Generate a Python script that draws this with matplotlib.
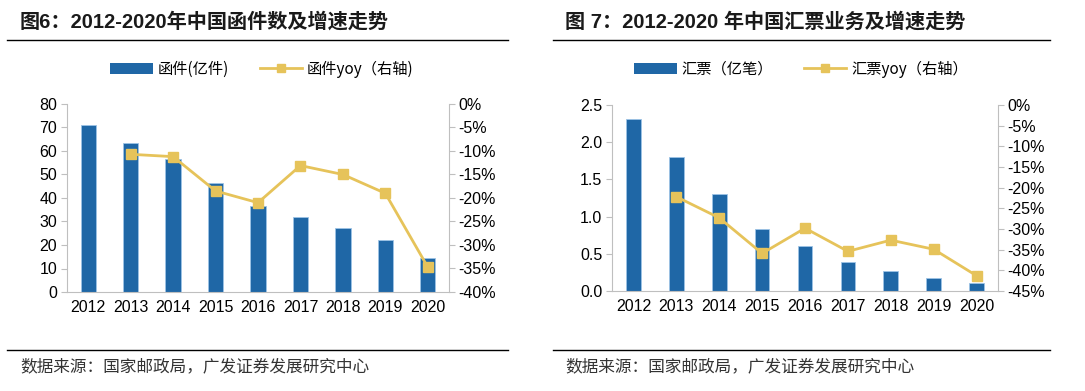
import matplotlib.pyplot as plt
from matplotlib.lines import Line2D
from matplotlib.patches import Patch
from matplotlib.ticker import FuncFormatter

plt.rcParams['font.family'] = ['Liberation Sans', 'Noto Sans CJK SC', 'DejaVu Sans']

years = ['2012', '2013', '2014', '2015', '2016', '2017', '2018', '2019', '2020']

# 图6 函件
letters = [71.2, 63.5, 56.4, 46.2, 36.5, 31.8, 27.3, 22.0, 14.5]
letters_yoy = [None, -10.7, -11.2, -18.5, -21.0, -13.1, -15.0, -19.0, -34.7]

# 图7 汇票
remit = [2.31, 1.80, 1.31, 0.84, 0.60, 0.39, 0.27, 0.18, 0.11]
remit_yoy = [None, -22.2, -27.3, -35.9, -29.8, -35.4, -32.7, -34.9, -41.3]

BAR = '#1F67A6'
LINE = '#E6C35A'
GRID = '#BFBFBF'
CJK = ['Noto Sans CJK SC', 'DejaVu Sans']
TICK = 11.5

W, H = 1085, 391
fig = plt.figure(figsize=(W / 100, H / 100), dpi=100)


def px(x0, y0, x1, y1):
    return [x0 / W, 1 - y1 / H, (x1 - x0) / W, (y1 - y0) / H]


def panel(box, vals, yoy, ylim, yticks, yfmt, rlim, rticks, width,
          title, tx, lx0, lx1, bar_label, line_label, leg):
    ax = fig.add_axes(px(*box))
    x = list(range(len(years)))
    ax.bar(x, vals, width=width, color=BAR, edgecolor='#9DC3E6', linewidth=0.6, zorder=2)
    ax.set_xlim(-0.5, len(years) - 0.5)
    ax.set_ylim(*ylim)
    ax.set_yticks(yticks)
    ax.yaxis.set_major_formatter(FuncFormatter(yfmt))
    ax.set_xticks(x)
    ax.set_xticklabels(years)
    for s in ['top', 'right']:
        ax.spines[s].set_visible(False)
    for s in ['left', 'bottom']:
        ax.spines[s].set_color(GRID)
    ax.tick_params(axis='y', length=4, color=GRID, labelsize=TICK, pad=3)
    ax.tick_params(axis='x', length=0, labelsize=TICK, pad=6)

    ax2 = ax.twinx()
    xs = [i for i, v in enumerate(yoy) if v is not None]
    ys = [v for v in yoy if v is not None]
    ax2.plot(xs, ys, color=LINE, linewidth=2, marker='s', markersize=7.5, zorder=3)
    ax2.set_ylim(*rlim)
    ax2.set_yticks(rticks)
    ax2.yaxis.set_major_formatter(FuncFormatter(lambda v, p: f'{v:.0f}%'))
    for s in ['top', 'left', 'bottom']:
        ax2.spines[s].set_visible(False)
    ax2.spines['right'].set_color(GRID)
    ax2.tick_params(axis='y', length=4, color=GRID, labelsize=TICK, pad=3)

    # 标题和分隔线
    fig.text(tx / W, 1 - 22 / H, title, fontsize=14.5, fontweight='bold',
             color='#1A1A1A', va='center', ha='left',
             family=['Liberation Sans', 'Noto Sans CJK SC'])
    fig.add_artist(Line2D([lx0 / W, lx1 / W], [1 - 39.5 / H] * 2, color='black', linewidth=1))
    fig.add_artist(Line2D([lx0 / W, lx1 / W], [1 - 350 / H] * 2, color='black', linewidth=1))
    fig.text(tx / W, 1 - 367 / H, '数据来源：国家邮政局，广发证券发展研究中心', fontsize=12,
             color='#333333', va='center', ha='left', family=CJK)

    handles = [Patch(facecolor=BAR), Line2D([], [], color=LINE, linewidth=2, marker='s', markersize=6)]
    fig.legend(handles, [bar_label, line_label], loc='center', bbox_to_anchor=(leg / W, 1 - 69 / H),
               ncol=2, frameon=False, prop={'family': CJK, 'size': 11},
               handlelength=2.8, handleheight=0.7, columnspacing=2.0, handletextpad=0.3)
    return ax


panel((67, 104, 449, 292), letters, letters_yoy, (0, 80), range(0, 81, 10),
      lambda v, p: f'{v:.0f}', (-40, 0), range(-40, 1, 5), 0.36,
      '图6：2012-2020年中国函件数及增速走势', 20, 7, 508,
      '函件(亿件)', '函件yoy（右轴)', 262)

panel((612, 105, 998, 291), remit, remit_yoy, (0, 2.5), [0, 0.5, 1.0, 1.5, 2.0, 2.5],
      lambda v, p: f'{v:.1f}', (-45, 0), range(-45, 1, 5), 0.34,
      '图 7：2012-2020 年中国汇票业务及增速走势', 565, 553, 1050,
      '汇票（亿笔）', '汇票yoy（右轴）', 801)

fig.savefig('out.png', dpi=100)
